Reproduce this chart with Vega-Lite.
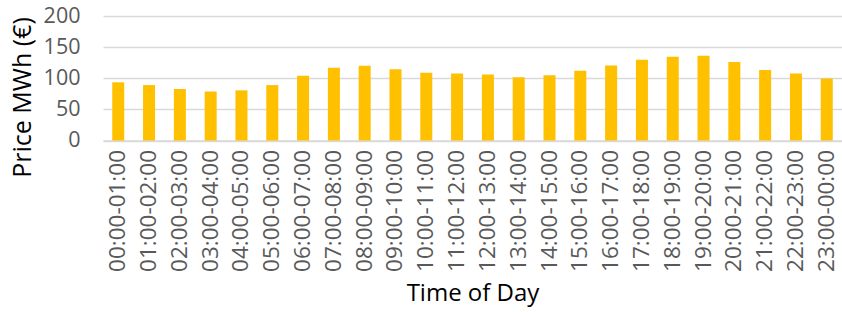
{
  "$schema": "https://vega.github.io/schema/vega-lite/v6.json",
  "autosize": {"type": "none"},
  "padding": {"left": 103, "top": 16, "right": 0, "bottom": 171.5},
  "width": 739,
  "height": 124.5,
  "background": "white",
  "config": {"view": {"stroke": null}, "font": "Open Sans"},
  "data": {"values": [
    {"time": "00:00-01:00", "price": 93.5},
    {"time": "01:00-02:00", "price": 89},
    {"time": "02:00-03:00", "price": 82.7},
    {"time": "03:00-04:00", "price": 78.7},
    {"time": "04:00-05:00", "price": 80.6},
    {"time": "05:00-06:00", "price": 89},
    {"time": "06:00-07:00", "price": 104},
    {"time": "07:00-08:00", "price": 117},
    {"time": "08:00-09:00", "price": 120},
    {"time": "09:00-10:00", "price": 114.5},
    {"time": "10:00-11:00", "price": 109},
    {"time": "11:00-12:00", "price": 107.5},
    {"time": "12:00-13:00", "price": 106},
    {"time": "13:00-14:00", "price": 101.6},
    {"time": "14:00-15:00", "price": 105},
    {"time": "15:00-16:00", "price": 112},
    {"time": "16:00-17:00", "price": 120.5},
    {"time": "17:00-18:00", "price": 129.6},
    {"time": "18:00-19:00", "price": 134.4},
    {"time": "19:00-20:00", "price": 136},
    {"time": "20:00-21:00", "price": 126.3},
    {"time": "21:00-22:00", "price": 113.4},
    {"time": "22:00-23:00", "price": 107.5},
    {"time": "23:00-00:00", "price": 99.5}
  ]},
  "mark": {"type": "bar", "color": "#FFC000"},
  "encoding": {
    "x": {
      "field": "time", "type": "nominal", "sort": null,
      "scale": {"paddingInner": 0.61, "paddingOuter": 0.3},
      "axis": {
        "title": "Time of Day", "titleFontSize": 24, "titleFontWeight": "normal", "titleColor": "#000000", "titlePadding": 10,
        "labelAngle": -90, "labelFontSize": 22.5, "labelColor": "#595959", "labelPadding": 9,
        "ticks": false, "domainColor": "#d9d9d9", "domainWidth": 1.5
      }
    },
    "y": {
      "field": "price", "type": "quantitative",
      "scale": {"domain": [0, 200]},
      "axis": {
        "title": "Price MWh (€)", "titleFontSize": 25, "titleFontWeight": "normal", "titleColor": "#000000", "titlePadding": 8, "titleY": 81,
        "values": [0, 50, 100, 150, 200], "labelFontSize": 21.5, "labelColor": "#595959", "labelPadding": 23,
        "ticks": false, "domain": false, "gridColor": "#d9d9d9", "gridWidth": 1.5
      }
    }
  }
}
